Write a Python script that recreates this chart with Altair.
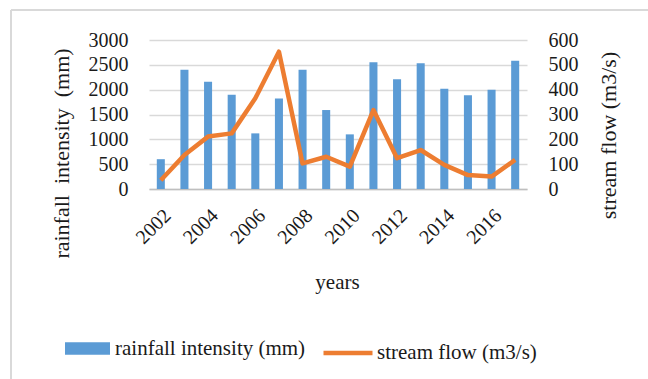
import altair as alt
import pandas as pd

years = list(range(2002, 2018))
rainfall = [600, 2400, 2160, 1900, 1120, 1820, 2400, 1590, 1100, 2550, 2210, 2530, 2020, 1890, 2000, 2580]
streamflow = [35, 137, 211, 224, 365, 553, 103, 130, 90, 318, 124, 157, 97, 56, 50, 117]
rain_ticks = [0, 500, 1000, 1500, 2000, 2500, 3000]
flow_ticks = [0, 100, 200, 300, 400, 500, 600]

RAIN_NAME = "rainfall intensity (mm)"
FLOW_NAME = "stream flow (m3/s)"

df = pd.DataFrame({
    "year": years,
    "rain": rainfall,
    "flow": streamflow,
    "rs": [RAIN_NAME] * len(years),
    "fs": [FLOW_NAME] * len(years),
})

FONT = "Liberation Serif"
TXT = "#1a1a1a"
BLUE = "#5B9BD5"
ORANGE = "#ED7D31"
GRID = "#d9d9d9"
NB = "\u00a0"

xenc = alt.X(
    "year:O",
    scale=alt.Scale(paddingInner=0.66, paddingOuter=0.33),
    axis=alt.Axis(
        title="years", labelAngle=-45, labelExpr="datum.value % 2 == 0 ? datum.label : ''",
        ticks=False, domainColor="#bfbfbf", domainWidth=1.5, labelPadding=16,
        labelFont=FONT, labelFontSize=20, labelColor=TXT,
        titleFont=FONT, titleFontSize=21, titleFontWeight="normal", titleColor=TXT,
        titleX=188, titleY=93, titleBaseline="middle", titleAlign="center",
        grid=False,
    ),
)

bars = alt.Chart(df).mark_bar().encode(
    x=xenc,
    y=alt.Y(
        "rain:Q",
        scale=alt.Scale(domain=[0, 3000], nice=False),
        axis=alt.Axis(
            values=rain_ticks, format="d", title=f"rainfall{NB}{NB}intensity{NB}{NB}(mm)", orient="left",
            domain=False, ticks=False, grid=True, gridColor=GRID, gridWidth=1.5,
            labelPadding=21, labelFont=FONT, labelFontSize=20, labelColor=TXT,
            titleFont=FONT, titleFontSize=22, titleFontWeight="normal", titleColor=TXT,
            titleAngle=270, titleX=-88, titleY=113, titleBaseline="middle", titleAlign="center",
        ),
    ),
    color=alt.Color(
        "rs:N",
        scale=alt.Scale(range=[BLUE]),
        legend=alt.Legend(
            title=None, orient="none", legendX=-84, legendY=286, padding=0,
            symbolType="M-1,-0.28H1V0.28H-1Z", symbolSize=2025, symbolStrokeWidth=0,
            labelFont=FONT, labelFontSize=21, labelColor=TXT, labelOffset=5, labelLimit=400,
        ),
    ),
)

line = alt.Chart(df).mark_line(strokeWidth=4.5, strokeJoin="round").encode(
    x=xenc,
    y=alt.Y(
        "flow:Q",
        scale=alt.Scale(domain=[0, 600], nice=False),
        axis=alt.Axis(
            values=flow_ticks, format="d", title="stream flow (m3/s)", orient="right",
            domain=False, ticks=False, grid=False,
            labelPadding=21, labelFont=FONT, labelFontSize=20, labelColor=TXT,
            titleFont=FONT, titleFontSize=22, titleFontWeight="normal", titleColor=TXT,
            titleAngle=270, titleX=81, titleY=95, titleBaseline="middle", titleAlign="center",
        ),
    ),
    color=alt.Color(
        "fs:N",
        scale=alt.Scale(range=[ORANGE]),
        legend=alt.Legend(
            title=None, orient="none", legendX=172, legendY=286, padding=0,
            symbolType="stroke", symbolSize=2401, symbolStrokeWidth=4.5,
            labelFont=FONT, labelFontSize=21, labelColor=TXT, labelOffset=2, labelLimit=400,
        ),
    ),
)

border_top = alt.Chart(df).mark_rule(color=GRID, strokeWidth=2).encode(
    x=alt.value(-138), x2=alt.value(499), y=alt.value(-30)
)
border_left = alt.Chart(df).mark_rule(color=GRID, strokeWidth=2).encode(
    x=alt.value(-138), y=alt.value(-30), y2=alt.value(339)
)

chart = alt.layer(border_top, border_left, bars, line).resolve_scale(
    y="independent", color="independent"
).properties(
    width=378, height=149,
    autosize=alt.AutoSizeParams(type="none"),
    padding={"left": 149, "top": 40, "right": 121, "bottom": 190},
    background="white",
).configure_view(stroke=None)

chart.save("out.html", embed_options={"renderer": "svg", "actions": False})
